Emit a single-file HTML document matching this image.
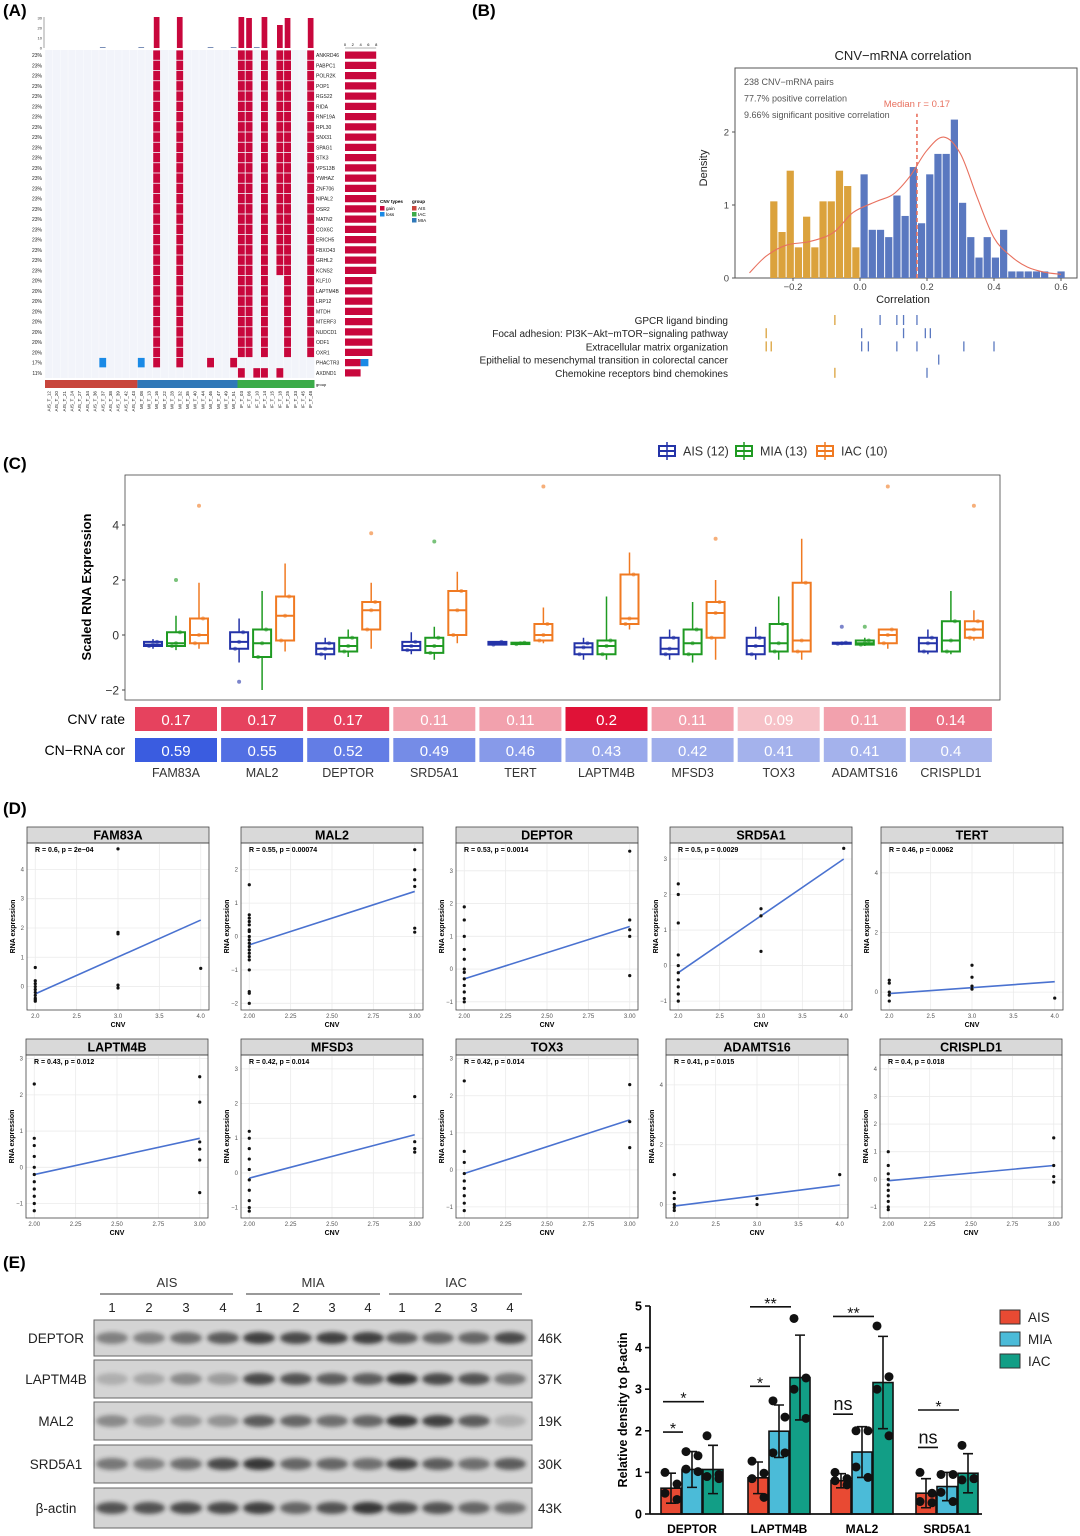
<!DOCTYPE html>
<html><head><meta charset="utf-8"><style>
html,body{margin:0;padding:0;background:#fff}
svg{display:block;font-family:"Liberation Sans",sans-serif}
</style></head><body>
<svg id="fig" xmlns="http://www.w3.org/2000/svg" width="1080" height="1536" viewBox="0 0 1080 1536">
<defs><filter id="blur" x="-50%" y="-50%" width="200%" height="200%"><feGaussianBlur stdDeviation="2.2"/></filter></defs>
<rect width="1080" height="1536" fill="#fff"/>
<text x="3" y="16" font-size="17" font-weight="bold">(A)</text>
<text x="472" y="16" font-size="17" font-weight="bold">(B)</text>
<text x="3" y="469" font-size="17" font-weight="bold">(C)</text>
<text x="3" y="814" font-size="17" font-weight="bold">(D)</text>
<text x="3" y="1268" font-size="17" font-weight="bold">(E)</text>
<g id="pa"></g>
<g id="pb"></g>
<g id="pc"></g>
<g id="pd"></g>
<g id="pe"></g>
</svg>
<script>
const NS="http://www.w3.org/2000/svg";
function mk(tag,a,p){const e=document.createElementNS(NS,tag);for(const k in a)e.setAttribute(k,a[k]);p.appendChild(e);return e;}
function tx(p,x,y,s,a){const e=mk('text',Object.assign({x:x,y:y},a||{}),p);e.textContent=s;return e;}

/* ---------- Panel A data ---------- */
const aGenes=["ANKRD46","PABPC1","POLR2K","POP1","RGS22","RIDA","RNF19A","RPL30","SNX31","SPAG1","STK3","VPS13B","YWHAZ","ZNF706","NIPAL2","OSR2","MATN2","COX6C","ERICH5","FBXO43","GRHL2","KCNS2","KLF10","LAPTM4B","LRP12","MTDH","MTERF3","NUDCD1","ODF1","OXR1","PHACTR3","AXDND1"];
const aPct=["23%","23%","23%","23%","23%","23%","23%","23%","23%","23%","23%","23%","23%","23%","23%","23%","23%","23%","23%","23%","23%","23%","20%","20%","20%","20%","20%","20%","20%","20%","17%","11%"];
const aGainA=[14,17,25,26,28,30,31,34];
const aGainB=[14,17,25,26,28,31,34];
const aGainPH=[14,17,21,24];
const aLossPH=[7,12];
const aGainAX=[25,27,28,30];
const aTop=[0,0,0,0,0,0,0,1,0,0,0,0,1,0,31,0,0,31,0,0,0,1,0,0,1,31,30,1,31,0,23,30,0,0,30];
const aSamples=["AIS_T_12","AIS_T_20","AIS_T_21","AIS_T_24","AIS_T_27","AIS_T_34","AIS_T_36","AIS_T_37","AIS_T_38","AIS_T_39","AIS_T_42","AIS_T_43","MI_T_08","MI_T_13","MI_T_16","MI_T_22","MI_T_28","MI_T_32","MI_T_35","MI_T_40","MI_T_44","MI_T_46","MI_T_47","MI_T_49","MI_T_51","IF_T_03","IF_T_06","IF_T_10","IF_T_14","IF_T_15","IF_T_18","IF_T_25","IF_T_33","IF_T_45","IF_T_48"];
const aGroups=[12,13,10];
(function(){
const g=document.getElementById('pa');
const x0=45,cw=7.7,y0=50,rh=10.25,n=35;
const bg=mk('rect',{x:x0,y:y0,width:n*cw,height:32*rh,fill:"#f2f4fa"},g);

const ax=mk('line',{x1:x0-1,y1:17,x2:x0-1,y2:48,stroke:"#666","stroke-width":0.6},g);

[0,10,20,30].forEach(v=>{const t=tx(g,x0-3,48-v*31/31+1.5,String(v),{"font-size":4,"text-anchor":"end",fill:"#333"});});
aTop.forEach((v,i)=>{if(!v)return;const h=v*31/31;const r=mk('rect',{x:x0+i*cw+1,y:48-Math.max(h,0.8),width:cw-2,height:Math.max(h,0.8),fill:v>1?"#c8073c":"#7a8fb8"},g);});
function cell(i,row,col){const r=mk('rect',{x:x0+i*cw+0.4,y:y0+row*rh+0.4,width:cw-0.8,height:rh-0.8,fill:col},g);}
const gainRows=[],lossRows=[];
aGenes.forEach((gn,row)=>{
 let gains=row<22?aGainA:row<30?aGainB:row===30?aGainPH:aGainAX;
 let loss=row===30?aLossPH:[];
 gains.forEach(i=>cell(i,row,"#c8073c"));loss.forEach(i=>cell(i,row,"#1a8ae6"));
 gainRows.push(gains.length);lossRows.push(loss.length);
 const yy=y0+row*rh+rh/2+2;
 const p=tx(g,42,yy,aPct[row],{"font-size":5,"text-anchor":"end",fill:"#222"});
 const t=tx(g,316,yy,gn,{"font-size":5,fill:"#222"});
});
for(let i=0;i<=n;i++){const l=mk('line',{x1:x0+i*cw,y1:y0,x2:x0+i*cw,y2:y0+32*rh,stroke:"#fff","stroke-width":0.5,opacity:0.7},g);}
const rx=345,ru=3.9;
const rax=mk('line',{x1:rx,y1:48,x2:rx+8*ru,y2:48,stroke:"#666","stroke-width":0.5},g);
[0,2,4,6,8].forEach(v=>{const t=tx(g,rx+v*ru,46,String(v),{"font-size":4,"text-anchor":"middle"});});
gainRows.forEach((c,row)=>{const yy=y0+row*rh+1.5;const r=mk('rect',{x:rx,y:yy,width:c*ru,height:rh-3,fill:"#c8073c"},g);
 if(lossRows[row]){const r2=mk('rect',{x:rx+c*ru,y:yy,width:lossRows[row]*ru,height:rh-3,fill:"#1a8ae6"},g);}});
const gc=["#c8453c","#2f78b8","#3bab48"];let gi=0;
aGroups.forEach((c,k)=>{const r=mk('rect',{x:x0+gi*cw,y:380,width:c*cw,height:8,fill:gc[k]},g);gi+=c;});
const gl=tx(g,316,386,"group",{"font-size":4});
aSamples.forEach((s,i)=>{const xx=x0+i*cw+cw/2+1.5;const t=tx(g,0,0,s,{"font-size":4.6,"text-anchor":"end",transform:`translate(${xx},391) rotate(-90)`,fill:"#222"});});
const L=[["CNV types",380,203,true],["group",412,203,true]];
L.forEach(l=>{const t=tx(g,l[1],l[2],l[0],{"font-size":4.6,"font-weight":"bold"});});
[["gain","#c8073c",380,209],["loss","#1a8ae6",380,215],["AIS","#c8453c",412,209],["IAC","#3bab48",412,215],["MIA","#2f78b8",412,221]].forEach(l=>{const r=mk('rect',{x:l[2],y:l[3]-3,width:4.5,height:4.5,fill:l[1]},g);const t=tx(g,l[2]+6,l[3]+1,l[0],{"font-size":4.6});});
})();

/* ---------- Panel B data ---------- */
const bOrange=[1.05,0.63,1.47,0.42,0.84,0.42,1.05,1.05,1.47,1.26,0.42];
const bBlue=[1.42,0.66,0.66,0.56,1.13,0.85,1.52,0.75,1.42,1.70,1.70,2.17,1.03,0.56,0.28,0.56,0.28,0.66,0.09,0.09,0.09,0.09,0.09,0,0.09];
const bBinW=0.0245;
const bDensX=[-0.33,-0.28,-0.22,-0.15,-0.08,-0.02,0.05,0.10,0.15,0.20,0.25,0.30,0.35,0.40,0.45,0.50,0.55,0.60];
const bDensY=[0.07,0.30,0.45,0.50,0.62,0.90,1.05,1.15,1.40,1.75,1.93,1.70,1.10,0.55,0.30,0.15,0.08,0.05];
const bMedian=0.17;
const bXTicks=[-0.2,0.0,0.2,0.4,0.6];
const bYTicks=[0,1,2];
const bPath=["GPCR ligand binding","Focal adhesion: PI3K\u2212Akt\u2212mTOR\u2212signaling pathway","Extracellular matrix organization","Epithelial to mesenchymal transition in colorectal cancer","Chemokine receptors bind chemokines"];
const bPathVals=[[-0.075,0.06,0.11,0.13,0.17],[-0.28,0.005,0.13,0.195,0.21],[-0.28,-0.265,0.005,0.025,0.11,0.17,0.31,0.40],[0.235],[-0.075,0.2]];
(function(){
const g=document.getElementById('pb');
const L=735,R=1077,T=68,B=278;
const X=v=>860+v*335, Y=v=>B-v*73;
const box=mk('rect',{x:L,y:T,width:R-L,height:B-T,fill:"none",stroke:"#555","stroke-width":1},g);
bOrange.forEach((v,i)=>{const x=X(-bBinW*(bOrange.length-i));const r=mk('rect',{x:x+0.5,y:Y(v),width:X(bBinW)-X(0)-1,height:v*73,fill:"#dba23c"},g);});
bBlue.forEach((v,i)=>{if(!v)return;const x=X(bBinW*i);const r=mk('rect',{x:x+0.5,y:Y(v),width:X(bBinW)-X(0)-1,height:v*73,fill:"#5a78c0"},g);});
const P=bDensX.map((v,i)=>[X(v),Y(bDensY[i])]);
let d="M"+P[0][0]+","+P[0][1];
for(let i=0;i<P.length-1;i++){const p0=P[Math.max(0,i-1)],p1=P[i],p2=P[i+1],p3=P[Math.min(P.length-1,i+2)];
 d+=`C${(p1[0]+(p2[0]-p0[0])/6).toFixed(1)},${(p1[1]+(p2[1]-p0[1])/6).toFixed(1)} ${(p2[0]-(p3[0]-p1[0])/6).toFixed(1)},${(p2[1]-(p3[1]-p1[1])/6).toFixed(1)} ${p2[0].toFixed(1)},${p2[1].toFixed(1)}`;}
const p=mk('path',{d:d,fill:"none",stroke:"#e8705e","stroke-width":1.1},g);
const ml=mk('line',{x1:X(bMedian),y1:B,x2:X(bMedian),y2:Y(2.25),stroke:"#e8705e","stroke-width":1.6,"stroke-dasharray":"4,3"},g);
const mt=tx(g,X(bMedian),107,"Median r = "+bMedian,{"font-size":9.5,fill:"#e8705e","text-anchor":"middle"});
bXTicks.forEach(v=>{const l=mk('line',{x1:X(v),y1:B,x2:X(v),y2:B+3,stroke:"#555"},g);const t=tx(g,X(v),B+12,(v<0?"\u2212":"")+Math.abs(v).toFixed(1),{"font-size":9.5,"text-anchor":"middle",fill:"#444"});});
bYTicks.forEach(v=>{const l=mk('line',{x1:L-3,y1:Y(v),x2:L,y2:Y(v),stroke:"#555"},g);const t=tx(g,L-6,Y(v)+3.5,String(v),{"font-size":9.5,"text-anchor":"end",fill:"#444"});});
const tt=tx(g,903,60,"CNV\u2212mRNA correlation",{"font-size":13,"text-anchor":"middle",fill:"#222"});
const xt=tx(g,903,303,"Correlation",{"font-size":11,"text-anchor":"middle",fill:"#222"});
const yt=tx(g,0,0,"Density",{"font-size":11,"text-anchor":"middle",transform:"translate(707,168) rotate(-90)",fill:"#222"});
["238 CNV\u2212mRNA pairs","77.7% positive correlation","9.66% significant positive correlation"].forEach((s,i)=>{const t=tx(g,744,85+i*16.5,s,{"font-size":9,fill:"#555"});});
bPath.forEach((s,i)=>{const y=324+i*13.2;const t=tx(g,728,y,s,{"font-size":10,"text-anchor":"end",fill:"#222"});
 bPathVals[i].forEach(v=>{const l=mk('line',{x1:X(v),y1:y-9,x2:X(v),y2:y+1,stroke:v<0?"#dba23c":"#5a78c0","stroke-width":1.3},g);});});
})();

/* ---------- Panel C data ---------- */
const cGenes=["FAM83A","MAL2","DEPTOR","SRD5A1","TERT","LAPTM4B","MFSD3","TOX3","ADAMTS16","CRISPLD1"];
const cAIS=[[-0.5,-0.4,-0.35,-0.25,-0.15],[-1.0,-0.5,-0.25,0.1,0.6],[-0.9,-0.7,-0.5,-0.3,-0.1],[-0.7,-0.55,-0.4,-0.25,0.1],[-0.35,-0.35,-0.3,-0.25,-0.25],[-0.9,-0.7,-0.45,-0.3,-0.1],[-0.9,-0.7,-0.5,-0.1,0.2],[-0.9,-0.7,-0.4,-0.1,0.3],[-0.35,-0.32,-0.3,-0.28,-0.25],[-0.7,-0.6,-0.3,-0.1,0.2]];
const cMIA=[[-0.55,-0.4,-0.3,0.1,0.7],[-2.0,-0.8,-0.3,0.2,1.6],[-0.8,-0.6,-0.4,-0.1,0.2],[-0.9,-0.65,-0.4,-0.1,0.3],[-0.33,-0.33,-0.3,-0.28,-0.28],[-0.9,-0.7,-0.4,-0.2,1.4],[-1.0,-0.7,-0.3,0.2,1.2],[-0.9,-0.6,-0.3,0.4,1.4],[-0.4,-0.35,-0.3,-0.2,-0.1],[-0.7,-0.6,-0.2,0.5,1.6]];
const cIAC=[[-0.5,-0.3,0,0.6,1.9],[-0.6,-0.2,0.7,1.4,2.6],[-0.5,0.2,0.9,1.2,1.9],[-0.3,0,0.9,1.6,2.3],[-0.3,-0.2,0,0.4,1.0],[0.2,0.4,0.6,2.2,3.0],[-0.9,-0.1,0.8,1.2,2.0],[-0.9,-0.6,-0.2,1.9,3.5],[-0.5,-0.3,0,0.2,0.2],[-0.2,-0.1,0.2,0.5,0.9]];
const cOutAIS=[[],[-1.7],[],[],[],[],[],[],[0.3],[]];
const cOutMIA=[[2.0],[],[],[3.4],[],[],[],[],[0.3],[]];
const cOutIAC=[[4.7],[],[3.7],[],[5.4],[],[3.5],[],[5.4],[4.7]];
const cCNV=[0.17,0.17,0.17,0.11,0.11,0.2,0.11,0.09,0.11,0.14];
const cCor=[0.59,0.55,0.52,0.49,0.46,0.43,0.42,0.41,0.41,0.4];
const cYTicks=[-2,0,2,4];
(function(){
const g=document.getElementById('pc');
const L=125,R=1000,T=475,B=700;
const Y=v=>635-v*27.5, X=i=>176+i*86.1;
const box=mk('rect',{x:L,y:T,width:R-L,height:B-T,fill:"none",stroke:"#444","stroke-width":0.8},g);
cYTicks.forEach(v=>{const l=mk('line',{x1:L-3,y1:Y(v),x2:L,y2:Y(v),stroke:"#444"},g);const t=tx(g,L-6,Y(v)+4.5,(v<0?"\u2212":"")+Math.abs(v),{"font-size":12,"text-anchor":"end",fill:"#333"});});
const yt=tx(g,0,0,"Scaled RNA Expression",{"font-size":13,"font-weight":"bold","text-anchor":"middle",transform:"translate(91,587) rotate(-90)"});
const series=[[cAIS,cOutAIS,"#2433a8",-23],[cMIA,cOutMIA,"#1f9a22",0],[cIAC,cOutIAC,"#f07a22",23]];
cGenes.forEach((gn,i)=>{
 series.forEach(s=>{const st=s[0][i],cx=X(i)+s[3],col=s[2];
  const w=mk('line',{x1:cx,y1:Y(st[0]),x2:cx,y2:Y(st[4]),stroke:col,"stroke-width":1.5},g);
  const b=mk('rect',{x:cx-9,y:Y(st[3]),width:18,height:Math.max(Y(st[1])-Y(st[3]),1),fill:"#fff",stroke:col,"stroke-width":2},g);
  const m=mk('line',{x1:cx-9,y1:Y(st[2]),x2:cx+9,y2:Y(st[2]),stroke:col,"stroke-width":2},g);
  [st[1],st[2],st[3]].forEach((v,k)=>{const d=mk('circle',{cx:cx+(k-1)*4,cy:Y(v),r:2,fill:col,opacity:0.6},g);});
  s[1][i].forEach(v=>{const o=mk('circle',{cx:cx,cy:Y(v),r:2,fill:col,opacity:0.6},g);});
 });
 const c1=Math.min(1,Math.max(0,(cCNV[i]-0.07)/0.13));
 const r1=mk('rect',{x:X(i)-41,y:707,width:82,height:24,fill:`rgb(${Math.round(250-26*c1)},${Math.round(225-207*c1)},${Math.round(225-170*c1)})`},g);
 const t1=tx(g,X(i),725,String(cCNV[i]),{"font-size":15,fill:"#fff","text-anchor":"middle"});
 const c2=Math.min(1,Math.max(0,(cCor[i]-0.38)/0.21));
 const r2=mk('rect',{x:X(i)-41,y:738,width:82,height:24,fill:`rgb(${Math.round(182-124*c2)},${Math.round(192-100*c2)},${Math.round(238-14*c2)})`},g);
 const t2=tx(g,X(i),756,String(cCor[i]),{"font-size":15,fill:"#fff","text-anchor":"middle"});
 const t3=tx(g,X(i),777,gn,{"font-size":12.5,"text-anchor":"middle",fill:"#333"});
});
const a=tx(g,125,724,"CNV rate",{"font-size":14,"text-anchor":"end"});
const b=tx(g,125,755,"CN\u2212RNA cor",{"font-size":14,"text-anchor":"end"});
[["AIS (12)","#2433a8",667],["MIA (13)","#1f9a22",744],["IAC (10)","#f07a22",825]].forEach(l=>{const k=mk('rect',{x:l[2]-8,y:446,width:16,height:10,fill:"#fff",stroke:l[1],"stroke-width":2},g);const ln=mk('line',{x1:l[2]-8,y1:451,x2:l[2]+8,y2:451,stroke:l[1],"stroke-width":2},g);const w=mk('line',{x1:l[2],y1:442,x2:l[2],y2:460,stroke:l[1],"stroke-width":1.5},g);const t=tx(g,l[2]+16,455.5,l[0],{"font-size":12.5,fill:"#333"});});
})();

/* ---------- Panel D data ---------- */
const dGenes=["FAM83A","MAL2","DEPTOR","SRD5A1","TERT","LAPTM4B","MFSD3","TOX3","ADAMTS16","CRISPLD1"];
const dStats=["R = 0.6, p = 2e\u221204","R = 0.55, p = 0.00074","R = 0.53, p = 0.0014","R = 0.5, p = 0.0029","R = 0.46, p = 0.0062","R = 0.43, p = 0.012","R = 0.42, p = 0.014","R = 0.42, p = 0.014","R = 0.41, p = 0.015","R = 0.4, p = 0.018"];
const dXRange=[[2,4],[2,3],[2,3],[2,4],[2,4],[2,3],[2,3],[2,3],[2,4],[2,3]];
const dXTicks4=["2.0","2.5","3.0","3.5","4.0"];
const dXTicks3=["2.00","2.25","2.50","2.75","3.00"];
const dYTicks=[[0,1,2,3,4],[-2,-1,0,1,2],[-1,0,1,2,3],[-1,0,1,2,3],[0,2,4],[-1,0,1,2,3],[-1,0,1,2,3],[-1,0,1,2,3],[0,2,4],[-1,0,1,2,3,4]];
const dPtsX=[
[2,2,2,2,2,2,2,2,2,2,3,3,3,3,3,4],
[2,2,2,2,2,2,2,2,2,2,2,2,2,2,2,2,2,2,2,3,3,3,3,3,3],
[2,2,2,2,2,2,2,2,2,2,2,2,3,3,3,3,3],
[2,2,2,2,2,2,2,2,2,2,3,3,3,4],
[2,2,2,2,2,3,3,3,3,4],
[2,2,2,2,2,2,2,2,2,2,2,3,3,3,3,3,3],
[2,2,2,2,2,2,2,2,2,2,3,3,3,3],
[2,2,2,2,2,2,2,2,2,3,3,3],
[2,2,2,2,2,2,3,3,4],
[2,2,2,2,2,2,2,2,2,2,3,3,3,3]];
const dPtsY=[
[0.65,0.2,0.1,0,-0.1,-0.2,-0.3,-0.4,-0.45,-0.5,4.7,1.85,1.8,0.05,-0.05,0.62],
[1.55,0.65,0.55,0.45,0.35,0.2,0.15,0,-0.1,-0.2,-0.3,-0.4,-0.5,-0.6,-0.7,-1.0,-1.65,-1.7,-2.0,2.6,2.0,1.7,1.5,0.25,0.13],
[1.9,1.5,1.0,0.6,0.3,0,-0.1,-0.3,-0.5,-0.7,-0.9,-1.0,3.6,1.5,1.2,1.0,-0.2],
[2.3,2.0,1.2,0.3,0,-0.2,-0.4,-0.6,-0.8,-1.0,1.6,1.4,0.4,3.3],
[0.4,0.3,0,-0.1,-0.3,0.9,0.5,0.2,0.1,-0.2],
[2.3,0.8,0.6,0.3,0,-0.2,-0.4,-0.6,-0.8,-1.0,-1.2,2.5,1.8,0.7,0.5,0.2,-0.7],
[1.2,1.0,0.7,0.4,0.1,-0.2,-0.5,-0.8,-1.0,-1.1,2.2,0.9,0.7,0.6],
[2.4,0.5,0.2,-0.1,-0.3,-0.5,-0.7,-0.9,-1.1,2.3,1.3,0.6],
[1.0,0.4,0.2,0,-0.1,-0.2,0.2,0,1.0],
[1.0,0.5,0.2,0,-0.2,-0.4,-0.6,-0.8,-1.0,-1.1,1.5,0.5,0.1,-0.1]];
const dFitStart=[-0.25,-0.25,-0.3,-0.2,-0.05,-0.2,-0.15,-0.1,-0.05,-0.05];
const dFitEnd=[2.27,1.35,1.3,3.0,0.35,0.8,1.1,1.35,0.65,0.5];
const dYLim=[[-0.8,4.9],[-2.2,2.8],[-1.25,3.85],[-1.25,3.45],[-0.6,5.0],[-1.4,3.1],[-1.3,3.4],[-1.3,3.1],[-0.45,5.0],[-1.4,4.5]];
(function(){
const g=document.getElementById('pd');
const lefts=[[27,241,456,670,881],[26,241,456,666,880]];
const tops=[827,1039],ph=[167,163],pw=182;
dGenes.forEach((gn,i)=>{
 const row=Math.floor(i/5),col=i%5;
 const L=lefts[row][col],T=tops[row],S=16,PT=T+S,PB=PT+ph[row],R=L+pw;
 const xr=dXRange[i],pad=(xr[1]-xr[0])*0.05;
 const X=v=>L+(v-xr[0]+pad)/(xr[1]-xr[0]+2*pad)*pw;
 const yl=dYLim[i];const Y=v=>PB-(v-yl[0])/(yl[1]-yl[0])*ph[row];
 const strip=mk('rect',{x:L,y:T,width:pw,height:S,fill:"#d9d9d9",stroke:"#444","stroke-width":0.8},g);
 const st=tx(g,L+pw/2,T+12.5,gn,{"font-size":12.5,"font-weight":"bold","text-anchor":"middle"});
 const xt=xr[1]===4?dXTicks4:dXTicks3;
 xt.forEach(s=>{const v=parseFloat(s);const gl=mk('line',{x1:X(v),y1:PT,x2:X(v),y2:PB,stroke:"#ebebeb","stroke-width":0.8},g);const t=tx(g,X(v),PB+8,s,{"font-size":6,"text-anchor":"middle",fill:"#555"});});
 dYTicks[i].forEach(v=>{const gl=mk('line',{x1:L,y1:Y(v),x2:R,y2:Y(v),stroke:"#ebebeb","stroke-width":0.8},g);const t=tx(g,L-3,Y(v)+2,(v<0?"\u2212":"")+Math.abs(v),{"font-size":6,"text-anchor":"end",fill:"#555"});});
 const bx=mk('rect',{x:L,y:PT,width:pw,height:ph[row],fill:"none",stroke:"#444","stroke-width":0.8},g);
 const fl=mk('line',{x1:X(xr[0]),y1:Y(dFitStart[i]),x2:X(xr[1]),y2:Y(dFitEnd[i]),stroke:"#4a72d0","stroke-width":1.6},g);
 dPtsX[i].forEach((x,k)=>{const c=mk('circle',{cx:X(x),cy:Y(dPtsY[i][k]),r:1.6,fill:"#111"},g);});
 const rt=tx(g,L+8,PT+9,dStats[i],{"font-size":7,"font-weight":"bold"});
 const xl=tx(g,L+pw/2,PB+17,"CNV",{"font-size":7,"font-weight":"bold","text-anchor":"middle"});
 const yt=tx(g,0,0,"RNA expression",{"font-size":7,"font-weight":"bold","text-anchor":"middle",transform:`translate(${L-12},${PT+ph[row]/2}) rotate(-90)`});
});
})();

/* ---------- Panel E data ---------- */
const eProteins=["DEPTOR","LAPTM4B","MAL2","SRD5A1","\u03b2-actin"];
const eSizes=["46K","37K","19K","30K","43K"];
const eBands=[
[0.45,0.45,0.55,0.65,0.8,0.75,0.8,0.8,0.65,0.6,0.6,0.75],
[0.2,0.25,0.4,0.3,0.75,0.7,0.65,0.65,0.85,0.75,0.7,0.5],
[0.4,0.3,0.35,0.35,0.65,0.6,0.55,0.6,0.85,0.8,0.65,0.2],
[0.5,0.45,0.55,0.75,0.85,0.6,0.6,0.55,0.8,0.65,0.55,0.65],
[0.7,0.7,0.75,0.75,0.8,0.6,0.7,0.85,0.75,0.7,0.6,0.55]];
const eCats=["DEPTOR","LAPTM4B","MAL2","SRD5A1"];
const eMeanAIS=[0.62,0.87,0.8,0.5];
const eMeanMIA=[1.07,1.99,1.49,0.66];
const eMeanIAC=[1.07,3.28,3.16,0.98];
const eTopAIS=[0.98,1.25,0.97,0.85];
const eTopMIA=[1.5,2.62,2.1,1.0];
const eTopIAC=[1.65,4.3,4.27,1.45];
const ePtsAIS=[[1.0,0.72,0.5,0.35],[1.27,0.98,0.85,0.4],[1.0,0.85,0.8,0.7],[1.0,0.5,0.3,0.27]];
const ePtsMIA=[[1.5,1.4,1.08,1.02],[2.72,2.33,1.47,1.47],[2.0,2.0,1.13,0.88],[0.95,0.95,0.52,0.3]];
const ePtsIAC=[[1.88,0.95,0.9,0.85],[4.7,3.27,3.0,2.3],[4.52,3.3,3.0,1.88],[1.65,0.85,0.82,0.85]];
const eSigNear=["*","*","ns","ns"], eSigNearY=[1.97,3.07,2.4,1.6];
const eSigFar=["*","**","**","*"], eSigFarY=[2.7,4.98,4.75,2.5];
const eYTicks=[0,1,2,3,4,5];
(function(){
const g=document.getElementById('pe');
const lanes=[112,149,186,223,259,296,332,368,402,438,474,510];
const rows=[[1320,36],[1360,38],[1402,38],[1445,38],[1488,40]];
[["AIS",167,100,233],["MIA",313,246,380],["IAC",456,389,522]].forEach(a=>{const t=tx(g,a[1],1287,a[0],{"font-size":13,"text-anchor":"middle",fill:"#333"});const l=mk('line',{x1:a[2],y1:1294,x2:a[3],y2:1294,stroke:"#333","stroke-width":1},g);});
lanes.forEach((x,i)=>{const t=tx(g,x,1312,String(i%4+1),{"font-size":13,"text-anchor":"middle",fill:"#222"});});
eProteins.forEach((p,r)=>{const y=rows[r][0],h=rows[r][1];
 const bg=mk('rect',{x:94,y:y,width:438,height:h,fill:"#d4d4d4",stroke:"#666","stroke-width":1},g);
 eBands[r].forEach((v,i)=>{const e=mk('ellipse',{cx:lanes[i],cy:y+h/2,rx:16,ry:6,fill:"#1a1a1a",opacity:v,filter:"url(#blur)"},g);});
 const t=tx(g,56,y+h/2+5,p,{"font-size":13.5,"text-anchor":"middle",fill:"#222"});
 const s=tx(g,538,y+h/2+5,eSizes[r],{"font-size":13.5,fill:"#222"});
});
const L=650,R=982,B=1514,u=41.6;const Y=v=>B-v*u;
const centers=[692,779,862,947],off=[-21,0,21],bw=20;
const cols=["#e84a33","#4bbbd8","#129e86"];
const means=[eMeanAIS,eMeanMIA,eMeanIAC],tops=[eTopAIS,eTopMIA,eTopIAC],pts=[ePtsAIS,ePtsMIA,ePtsIAC];
eCats.forEach((c,i)=>{
 [0,1,2].forEach(k=>{const cx=centers[i]+off[k],m=means[k][i],tp=tops[k][i],sd=tp-m;
  const b=mk('rect',{x:cx-bw/2,y:Y(m),width:bw,height:m*u,fill:cols[k],stroke:"#111","stroke-width":1.6},g);
  const e=mk('path',{d:`M${cx},${Y(m-sd)}V${Y(tp)}M${cx-5},${Y(tp)}H${cx+5}M${cx-5},${Y(m-sd)}H${cx+5}`,stroke:"#111","stroke-width":1.6,fill:"none"},g);
  pts[k][i].forEach((v,j)=>{const d=mk('circle',{cx:cx+[-6,6,-6,6][j],cy:Y(v),r:4.5,fill:"#111"},g);});
 });
 const c0=centers[i];
 const n1=c0-29,n2=c0-9;
 const l1=mk('line',{x1:n1,y1:Y(eSigNearY[i]),x2:n2,y2:Y(eSigNearY[i]),stroke:"#111","stroke-width":1.6},g);
 const s1=tx(g,(n1+n2)/2,Y(eSigNearY[i])-(eSigNear[i]==="ns"?4:-2),eSigNear[i],{"font-size":eSigNear[i]==="ns"?18:16,"text-anchor":"middle",fill:"#111"});
 const f1=c0-29,f2=c0+12;
 const l2=mk('line',{x1:f1,y1:Y(eSigFarY[i]),x2:f2,y2:Y(eSigFarY[i]),stroke:"#111","stroke-width":1.6},g);
 const s2=tx(g,(f1+f2)/2,Y(eSigFarY[i])+2,eSigFar[i],{"font-size":16,"text-anchor":"middle",fill:"#111"});
 const cl=tx(g,c0,1533,c,{"font-size":12,"font-weight":"bold","text-anchor":"middle"});
});
const ya=mk('line',{x1:L,y1:Y(5),x2:L,y2:B,stroke:"#111","stroke-width":1.8},g);
const xa=mk('line',{x1:L,y1:B,x2:R,y2:B,stroke:"#111","stroke-width":1.8},g);
eYTicks.forEach(v=>{const l=mk('line',{x1:L-5,y1:Y(v),x2:L,y2:Y(v),stroke:"#111","stroke-width":1.6},g);const t=tx(g,L-8,Y(v)+4.5,String(v),{"font-size":12.5,"font-weight":"bold","text-anchor":"end"});});
const yt=tx(g,0,0,"Relative density to \u03b2-actin",{"font-size":12.5,"font-weight":"bold","text-anchor":"middle",transform:"translate(627,1410) rotate(-90)"});
[["AIS",1310],["MIA",1332],["IAC",1354]].forEach((l,k)=>{const r=mk('rect',{x:1000,y:l[1],width:20,height:14,fill:cols[k],stroke:"#333","stroke-width":1},g);const t=tx(g,1028,l[1]+12,l[0],{"font-size":13.5,fill:"#222"});});
})();
</script>
</body></html>
